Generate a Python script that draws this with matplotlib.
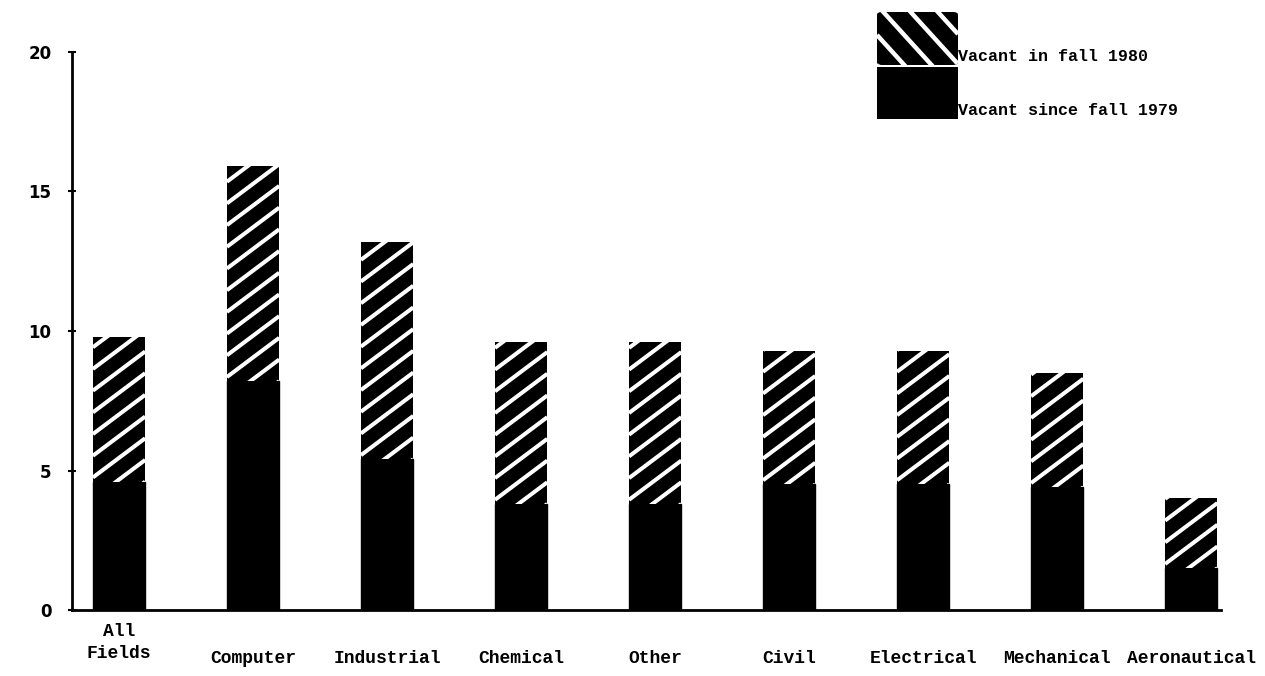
import numpy as np
import matplotlib
matplotlib.use('Agg')
import matplotlib.pyplot as plt
from matplotlib.patches import Rectangle, FancyBboxPatch
from matplotlib.collections import LineCollection
from matplotlib.transforms import IdentityTransform
from matplotlib import rcParams
rcParams['font.family'] = 'sans-serif'

fields = ['All\nFields', 'Computer', 'Industrial', 'Chemical', 'Other',
          'Civil', 'Electrical', 'Mechanical', 'Aeronautical']
since_1979 = [4.6, 8.2, 5.4, 3.8, 3.8, 4.5, 4.5, 4.4, 1.5]
total_1980 = [9.8, 15.9, 13.2, 9.6, 9.6, 9.3, 9.3, 8.5, 4.0]
in_1980 = [t - s for t, s in zip(total_1980, since_1979)]

ind = np.arange(len(fields))
width = 0.39


def hatch(fig, patch, slope, spacing, lw=2.9):
    # white diagonal stripes (in pixels) clipped to a patch
    bb = patch.get_window_extent()
    x0, y0, x1, y1 = bb.x0, bb.y0, bb.x1, bb.y1
    w = x1 - x0
    segs = []
    for c in np.arange(-abs(slope) * w - spacing, (y1 - y0) + abs(slope) * w + spacing, spacing):
        if slope > 0:
            segs.append([(x0, y0 + c), (x1, y0 + c + slope * w)])
        else:
            segs.append([(x0, y0 + c - slope * w), (x1, y0 + c)])
    lc = LineCollection(segs, colors='white', linewidths=lw, transform=IdentityTransform())
    lc.set_clip_path(patch)
    fig.add_artist(lc)


fig = plt.figure(figsize=(12.65, 6.76), dpi=100)
ax = fig.add_axes([0.057, 0.0976, 0.908, 0.8255])

ax.set_xlim(-0.35, 8.22)
ax.set_ylim(0, 20)

ax.bar(ind, since_1979, width, color='black', edgecolor='black', linewidth=1)
top = ax.bar(ind, in_1980, width, bottom=since_1979, color='black', linewidth=0)
for p in top:
    hatch(fig, p, 0.75, 21.7)

ax.set_yticks([0, 5, 10, 15, 20])
ax.set_yticklabels(['0', '5', '10', '15', '20'], fontsize=12, fontweight='bold')
ax.set_xticks(ind)
ax.set_xticklabels(fields, family='Liberation Mono', fontsize=13,
                   fontweight='bold', linespacing=1.4)
ax.tick_params(axis='x', length=0, pad=9)
for i, t in enumerate(ax.xaxis.get_major_ticks()):
    if i > 0:
        t.set_pad(29)
ax.tick_params(axis='y', direction='inout', length=6, width=1.5, pad=12)
for s in ['top', 'right']:
    ax.spines[s].set_visible(False)
ax.spines['left'].set_linewidth(2)
ax.spines['bottom'].set_linewidth(2)

# legend drawn by hand: hatched box above solid box, labels at their bottoms
box1 = FancyBboxPatch((877 / 1265, 1 - 65 / 676), 81 / 1265, 53 / 676,
                      boxstyle='round,pad=0,rounding_size=0.004',
                      transform=fig.transFigure, facecolor='black', linewidth=0)
fig.patches.append(box1)
hatch(fig, box1, -1.1, 30, lw=3.2)
box2 = Rectangle((877 / 1265, 1 - 119 / 676), 81 / 1265, 52 / 676,
                 transform=fig.transFigure, facecolor='black', linewidth=0)
fig.patches.append(box2)
fig.text(958 / 1265, 1 - 61 / 676, 'Vacant in fall 1980', family='Liberation Mono',
         fontsize=12, fontweight='bold', va='baseline')
fig.text(958 / 1265, 1 - 115 / 676, 'Vacant since fall 1979', family='Liberation Mono',
         fontsize=12, fontweight='bold', va='baseline')

fig.savefig('out.png', dpi=100)
plt.close()
